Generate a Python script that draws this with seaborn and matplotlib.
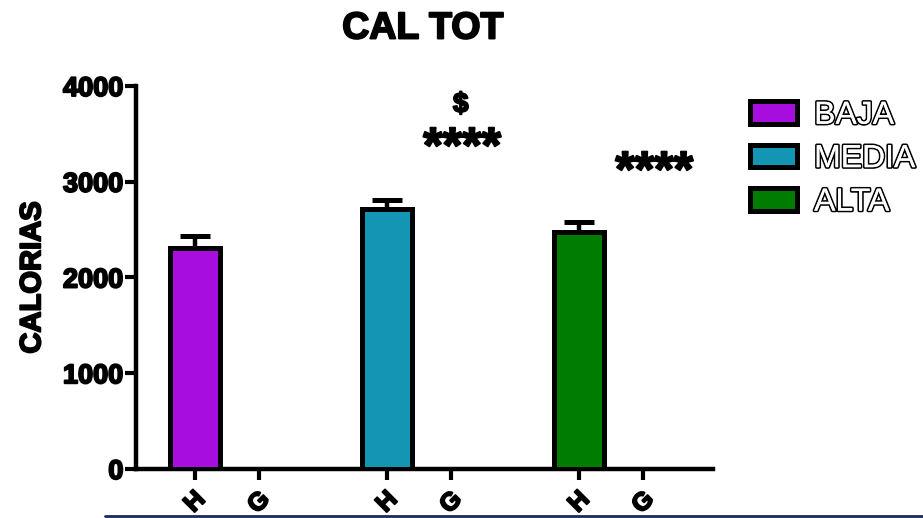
import matplotlib
matplotlib.use("Agg")
import matplotlib.pyplot as plt
import matplotlib.patheffects as pe
from matplotlib.lines import Line2D
from matplotlib.patches import Patch
import seaborn as sns
import pandas as pd

# Data: total calories per intake group, H and G subgroups
groups = ["BAJA", "BAJA", "MEDIA", "MEDIA", "ALTA", "ALTA"]
subgroups = ["H", "G", "H", "G", "H", "G"]
positions = [0, 1, 3, 4, 6, 7]
calories = [2310, 0, 2720, 0, 2475, 0]
sem = [125, 0, 90, 0, 105, 0]
palette = {"BAJA": "#A80DE0", "MEDIA": "#1296B4", "ALTA": "#007D00"}
star_marks = [(4, 3205, "****"), (7, 2955, "****")]
dollar_marks = [(4, 3800, "$")]

sns.set_theme(style="white")
plt.rcParams["font.family"] = ["Liberation Sans", "DejaVu Sans"]
plt.rcParams["font.weight"] = "bold"
for key in ("text.color", "axes.labelcolor", "xtick.color", "ytick.color"):
    plt.rcParams[key] = "black"

heavy = [pe.withStroke(linewidth=1.4, foreground="black")]

df = pd.DataFrame({"pos": positions, "cal": calories, "grupo": groups,
                   "sub": subgroups, "sem": sem})

fig = plt.figure(figsize=(9.23, 5.18), dpi=100)
ax = fig.add_axes([0.1473, 0.0946, 0.7725 - 0.1473, 0.834 - 0.0946])

sns.barplot(data=df, x="pos", y="cal", hue="grupo", palette=palette,
            native_scale=True, dodge=False, width=0.78, errorbar=None,
            saturation=1, edgecolor="black", linewidth=3.6, legend=False,
            ax=ax, zorder=3)

# upward-only SEM bars
nz = df[df["cal"] > 0]
ax.errorbar(nz["pos"], nz["cal"], yerr=[[0] * len(nz), nz["sem"]],
            fmt="none", ecolor="black", elinewidth=3.2, capsize=10.5,
            capthick=3.6, zorder=2)

for x, y, s in star_marks:
    ax.text(x + 0.17, y, s, ha="center", va="baseline", fontsize=36,
            fontweight="bold", color="black", path_effects=heavy)
for x, y, s in dollar_marks:
    ax.text(x + 0.15, y, s, ha="center", va="center", fontsize=20,
            fontweight="bold", color="black", path_effects=heavy)

ax.set_xlim(-0.92, 8.09)
ax.set_ylim(0, 4000)
ax.set_yticks([0, 1000, 2000, 3000, 4000])
ax.set_xticks(positions)
ax.set_xticklabels(subgroups, rotation=45, fontsize=18, fontweight="bold")
ax.tick_params(axis="y", labelsize=19.5, width=3, length=8, direction="out",
               left=True, pad=1)
ax.tick_params(axis="x", width=3, length=8, direction="out", bottom=True,
               pad=5)
for lab in ax.get_yticklabels() + ax.get_xticklabels():
    lab.set_fontweight("bold")
    lab.set_path_effects(heavy)
ax.set_xlabel("")
ax.set_ylabel("CALORIAS", fontsize=21, fontweight="bold", labelpad=12,
              path_effects=heavy)
sns.despine(ax=ax)
for side in ("left", "bottom"):
    ax.spines[side].set_linewidth(3.2)
    ax.spines[side].set_color("black")

fig.text(0.458, 0.945, "CAL TOT", ha="center", va="center", fontsize=27,
         fontweight="bold", path_effects=heavy)

handles = [Patch(facecolor=palette[g], edgecolor="black", linewidth=3.6,
                 label=g) for g in ["BAJA", "MEDIA", "ALTA"]]
leg = fig.legend(handles=handles, loc="upper left",
                 bbox_to_anchor=(0.781, 0.861), frameon=False, fontsize=23,
                 handlelength=1.47, handleheight=0.72, labelspacing=0.42,
                 handletextpad=0.55)
for t in leg.get_texts():
    t.set_color("white")
    t.set_fontweight("normal")
    t.set_path_effects([pe.withStroke(linewidth=2.4, foreground="black"),
                        pe.Normal()])

fig.add_artist(Line2D([0.114, 1.0], [0.004, 0.004], color="#1a2a5a",
                      linewidth=2, transform=fig.transFigure))

fig.savefig("out.png", dpi=100)
